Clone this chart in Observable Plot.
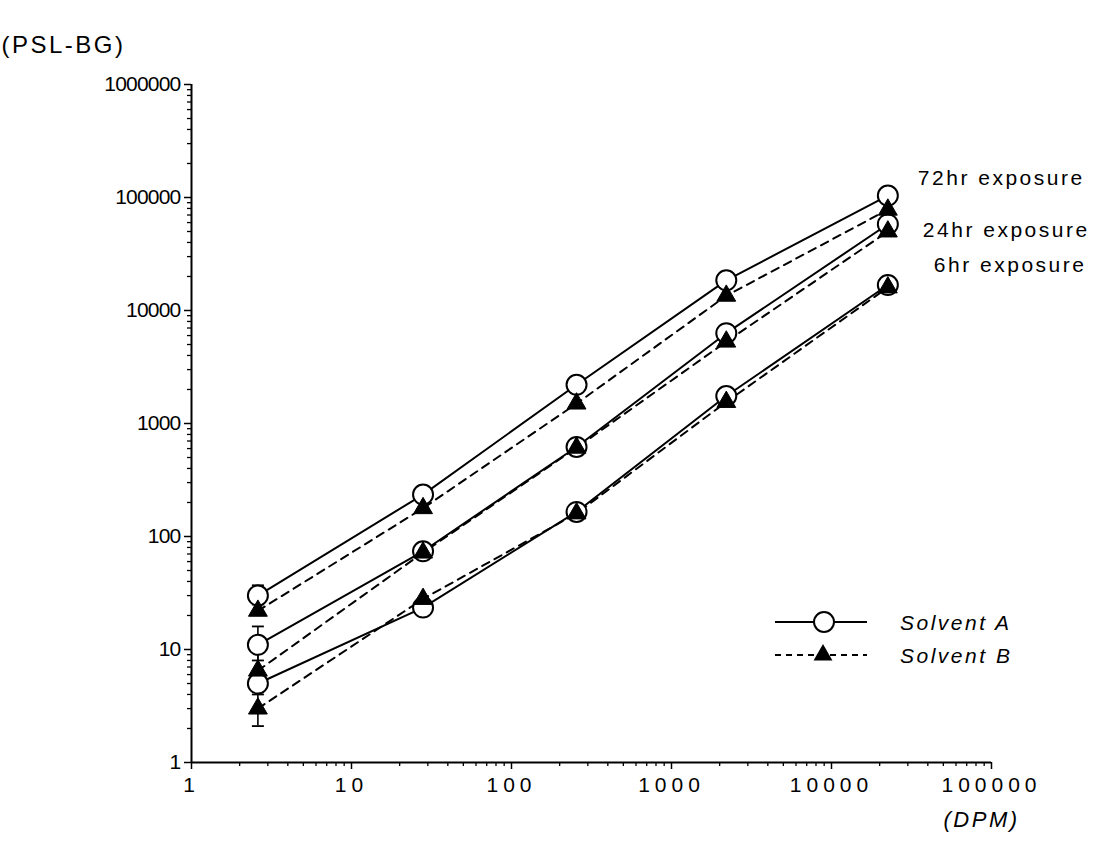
<!DOCTYPE html>
<html><head><meta charset="utf-8">
<script src="https://cdn.jsdelivr.net/npm/d3@7"></script>
<script src="https://cdn.jsdelivr.net/npm/@observablehq/plot@0.6"></script>
<style>
html,body{margin:0;padding:0;background:#fff;}
#wrap{position:relative;width:1097px;height:859px;font-family:"Liberation Sans",Arial,sans-serif;color:#000;}
#wrap svg.chart{display:block;}
.chart g[aria-label="x-axis tick label"], .chart g[aria-label="x-axis tick label"] text{font-size:21px;letter-spacing:5px;}
.chart g[aria-label="y-axis tick label"], .chart g[aria-label="y-axis tick label"] text{font-size:21px;letter-spacing:-0.8px;}
.chart g[aria-label="text"] text{letter-spacing:2.5px;}
#legend{position:absolute;left:770px;top:606px;}
#legend .row{display:flex;align-items:center;height:33px;}
#legend .lab{font-style:italic;font-size:21px;letter-spacing:2.5px;margin-left:30px;}
</style></head>
<body><div id="wrap"></div>
<script>
// DPM (x) positions of the five dilution points
const dpm = [2.6, 28, 255, 2200, 22500];
// PSL-BG values per exposure and solvent
const a72 = [30, 235, 2200, 18500, 104000];
const b72 = [22, 178, 1500, 13500, 78000];
const a24 = [11, 74, 620, 6300, 58000];
const b24 = [6.5, 72, 610, 5300, 50000];
const a6  = [5.0, 23.5, 165, 1750, 16800];
const b6  = [3.0, 28, 160, 1550, 16000];
// error bars at the first point
const errSeries = ["72hr A", "24hr A", "24hr B", "6hr A", "6hr B"];
const errLow  = [25, 8, 4.5, 4.2, 2.1];
const errHigh = [37, 16, 10.5, 6.5, 4.0];
// tick labels
const xTicks = [1, 10, 100, 1000, 10000, 100000];
const yTicks = [1, 10, 100, 1000, 10000, 100000, 1000000];
const exposures = ["72hr", "24hr", "6hr"];
const solvents = ["Solvent A", "Solvent B"];

const series = [
  {exposure: "72hr", solvent: "A", values: a72},
  {exposure: "72hr", solvent: "B", values: b72},
  {exposure: "24hr", solvent: "A", values: a24},
  {exposure: "24hr", solvent: "B", values: b24},
  {exposure: "6hr",  solvent: "A", values: a6},
  {exposure: "6hr",  solvent: "B", values: b6}
];
const rows = series.flatMap(s => s.values.map((v, i) => ({exposure: s.exposure, solvent: s.solvent, dpm: dpm[i], psl: v})));
const rowsA = rows.filter(d => d.solvent === "A");
const rowsB = rows.filter(d => d.solvent === "B");
const errRows = errSeries.map((s, i) => ({s, dpm: dpm[0], lo: errLow[i], hi: errHigh[i]}));

const minor = (decs) => decs.flatMap(d => [2,3,4,5,6,7,8,9].map(m => m * d));
const xMinor = minor([1, 10, 100, 1000, 10000]);
const yMinor = minor([1, 10, 100, 1000, 10000, 100000]);

const cap = {draw(ctx, size) { const w = Math.sqrt(size / Math.PI); ctx.moveTo(-w, 0); ctx.lineTo(w, 0); }};
const lastA = e => rowsA.filter(d => d.exposure === e).slice(-1).map(d => ({...d, label: e + " exposure"}));

const chart = Plot.plot({
  className: "chart",
  width: 1097, height: 859,
  marginLeft: 191, marginRight: 106, marginTop: 84, marginBottom: 97,
  style: {background: "white", color: "black", fontFamily: "'Liberation Sans', Arial, sans-serif", fontSize: "19px", overflow: "visible"},
  x: {type: "log", domain: [1, 100000]},
  y: {type: "log", domain: [1, 1000000]},
  marks: [
    Plot.axisY({ticks: yMinor, tickSize: 4, tickFormat: () => "", label: null, strokeWidth: 1.3}),
    Plot.axisY({ticks: yTicks, tickSize: 7, tickPadding: 4, tickFormat: d => String(d), label: null, strokeWidth: 1.5}),
    Plot.axisX({ticks: xMinor, tickSize: 4, tickFormat: () => "", label: null, strokeWidth: 1.3}),
    Plot.axisX({ticks: xTicks, tickSize: 7, tickPadding: 8, tickFormat: d => String(d), label: null, strokeWidth: 1.5}),
    Plot.ruleX([1], {strokeWidth: 2}),
    Plot.ruleY([1], {strokeWidth: 2}),
    Plot.line(rowsA, {x: "dpm", y: "psl", z: "exposure", stroke: "black", strokeWidth: 2}),
    Plot.line(rowsB, {x: "dpm", y: "psl", z: "exposure", stroke: "black", strokeWidth: 2, strokeDasharray: "8,6"}),
    Plot.ruleX(errRows, {x: "dpm", y1: "lo", y2: "hi", stroke: "black", strokeWidth: 1.6}),
    Plot.dot(errRows, {x: "dpm", y: "hi", symbol: cap, r: 6, stroke: "black", strokeWidth: 1.8}),
    Plot.dot(errRows, {x: "dpm", y: "lo", symbol: cap, r: 6, stroke: "black", strokeWidth: 1.8}),
    Plot.dot(rowsA, {x: "dpm", y: "psl", r: 10, fill: "white", stroke: "black", strokeWidth: 2}),
    Plot.dot(rowsB, {x: "dpm", y: "psl", r: 7, symbol: "triangle", fill: "black", stroke: "black", strokeWidth: 1}),
    Plot.text(lastA(exposures[0]), {x: "dpm", y: "psl", text: "label", dx: 30, dy: -17, textAnchor: "start", fontSize: 21}),
    Plot.text(lastA(exposures[1]), {x: "dpm", y: "psl", text: "label", dx: 35, dy: 6, textAnchor: "start", fontSize: 21}),
    Plot.text(lastA(exposures[2]), {x: "dpm", y: "psl", text: "label", dx: 46, dy: -20, textAnchor: "start", fontSize: 21}),
    Plot.text(["(PSL-BG)"], {text: d => d, frameAnchor: "top-left", dx: -190, dy: -49, textAnchor: "start", fontSize: 24}),
    Plot.text(["(DPM)"], {text: d => d, frameAnchor: "bottom-right", dx: -48, dy: 64, textAnchor: "start", fontSize: 22, fontStyle: "italic"})
  ]
});
const wrap = document.getElementById("wrap");
wrap.appendChild(chart);

// legend
const legend = document.createElement("div");
legend.id = "legend";
solvents.forEach((name, i) => {
  const row = document.createElement("div");
  row.className = "row";
  const svg = d3.create("svg").attr("width", 100).attr("height", 33);
  svg.append("line").attr("x1", 5).attr("x2", 97).attr("y1", 16).attr("y2", 16)
    .attr("stroke", "black").attr("stroke-width", 2).attr("stroke-dasharray", i ? "6,5" : null);
  if (i === 0) {
    svg.append("circle").attr("cx", 54).attr("cy", 16).attr("r", 10).attr("fill", "white").attr("stroke", "black").attr("stroke-width", 2);
  } else {
    svg.append("path").attr("transform", "translate(53,16)").attr("d", d3.symbol(d3.symbolTriangle, Math.PI * 49)()).attr("fill", "black");
  }
  row.appendChild(svg.node());
  const lab = document.createElement("span");
  lab.className = "lab";
  lab.textContent = name;
  row.appendChild(lab);
  legend.appendChild(row);
});
wrap.appendChild(legend);
</script>
</body></html>
